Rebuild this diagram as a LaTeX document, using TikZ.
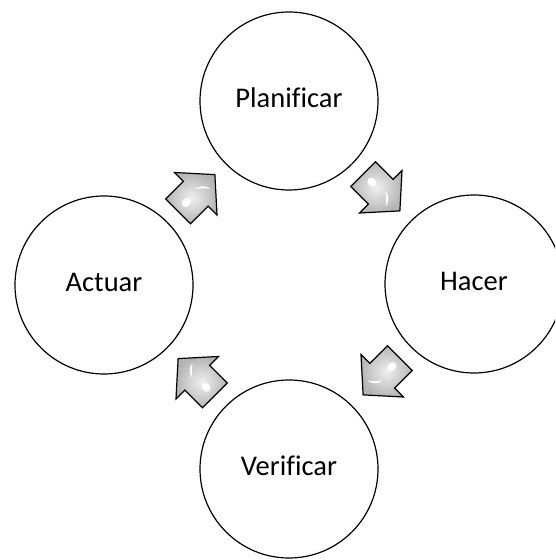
\documentclass[tikz,border=0pt]{standalone}
\usepackage{fontspec}
\setmainfont{Carlito}[Ligatures=NoCommon]
\usetikzlibrary{calc}

\tikzset{
  phase/.style={circle, draw=black, line width=1.2pt, minimum size=178pt,
    inner sep=0pt, font=\fontsize{28.5}{34}\selectfont,
    text height=14pt, text depth=0pt},
  % shaded block arrow pointing along +x, centred on the origin
  cyclearrow/.pic={
    \shadedraw[inner color=gray!12, outer color=gray!58, draw=black,
      line width=1.2pt, line join=miter]
      (-26,-17.5) -- (-1,-17.5) -- (-1,-30) -- (26,0) -- (-1,30)
      -- (-1,17.5) -- (-26,17.5) -- cycle;
    % glossy highlights
    \fill[white, rotate around={45:(7,-2)}]
      (7,-9) arc[start angle=-90, end angle=90, x radius=3.2, y radius=7]
      arc[start angle=90, end angle=-90, x radius=1.2, y radius=7] -- cycle;
    \fill[white] (-14,0.5) ellipse [x radius=5, y radius=4];
  }
}

\begin{document}
\begin{tikzpicture}[x=1pt, y=1pt]
  \useasboundingbox (0,0) rectangle (555,560);
  \clip (0,0) rectangle (555,560);

  \node[phase] (plan)   at (289,459) {Planificar};
  \node[phase] (hacer)  at (474,276) {Hacer};
  \node[phase] (verif)  at (289, 91) {Verificar};
  \node[phase] (actuar) at (104,275) {Actuar};

  \pic[rotate=45]   at ($(actuar)!0.5!(plan)$)  {cyclearrow};
  \pic[rotate=-45]  at ($(plan)!0.5!(hacer)$)   {cyclearrow};
  \pic[rotate=-135] at ($(hacer)!0.5!(verif)$)  {cyclearrow};
  \pic[rotate=135]  at ($(verif)!0.5!(actuar)$) {cyclearrow};
\end{tikzpicture}
\end{document}
